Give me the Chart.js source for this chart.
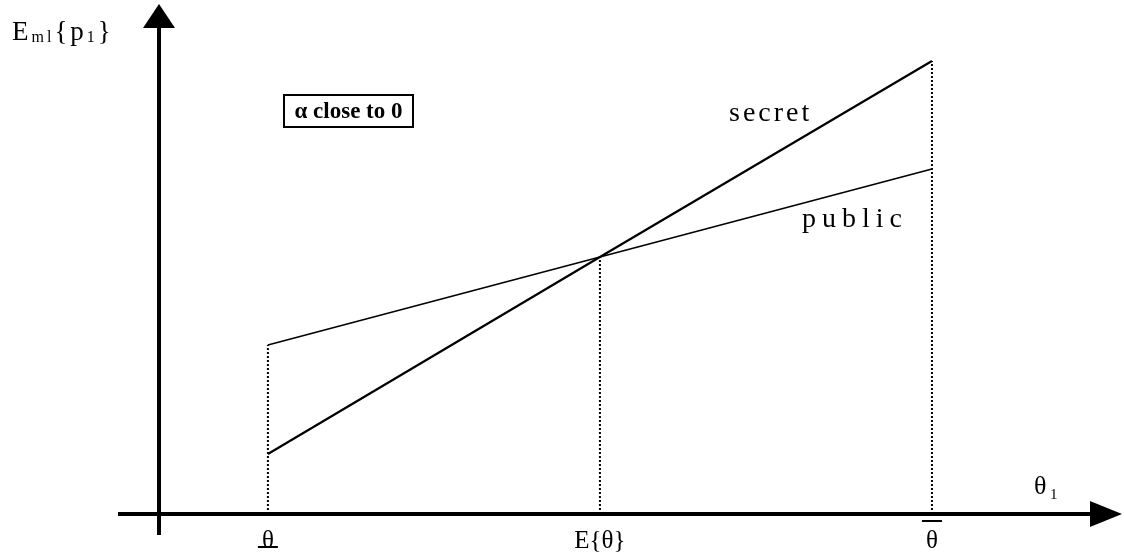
<!DOCTYPE html>
<html lang="en">

<head>
    <meta charset="UTF-8">
    <title>Secret vs public</title>
    <script src="https://cdn.jsdelivr.net/npm/chart.js"></script>
    <style>
        body { margin: 0; background: #fff; }
        canvas { display: block; }
    </style>
</head>

<body>
    <canvas id="chart" width="1124" height="557"></canvas>
    <script>
        // theta positions: low, expected, high
        const thetaValues = [0, 1, 2];
        const thetaLabels = ['θ', 'E{θ}', 'θ'];
        const publicPrice = [169, 257, 345];
        const secretPrice = [60, 257, 453];

        const toPoints = ys => thetaValues.map((x, i) => ({ x: x, y: ys[i] }));

        // dotted drop lines from the axis up to the higher of the two lines
        const dropSets = thetaValues.map((x, i) => ({
            data: [{ x: x, y: 0 }, { x: x, y: Math.max(publicPrice[i], secretPrice[i]) }],
            borderColor: '#000',
            borderWidth: 2,
            borderDash: [2, 2],
            pointRadius: 0,
            showLine: true
        }));

        const serif = '"Liberation Serif", "DejaVu Serif", serif';

        const axesPlugin = {
            id: 'axes',
            afterDraw(chart) {
                const ctx = chart.ctx;
                const a = chart.chartArea;
                const xs = chart.scales.x;
                ctx.save();
                ctx.fillStyle = '#000';
                ctx.strokeStyle = '#000';

                // y axis with arrow
                ctx.lineWidth = 4;
                ctx.beginPath();
                ctx.moveTo(a.left, 535);
                ctx.lineTo(a.left, 26);
                ctx.stroke();
                ctx.beginPath();
                ctx.moveTo(a.left, 4);
                ctx.lineTo(a.left - 16, 28);
                ctx.lineTo(a.left + 16, 28);
                ctx.closePath();
                ctx.fill();

                // x axis with arrow
                ctx.beginPath();
                ctx.moveTo(118, a.bottom);
                ctx.lineTo(a.right + 2, a.bottom);
                ctx.stroke();
                ctx.beginPath();
                ctx.moveTo(a.right + 32, a.bottom);
                ctx.lineTo(a.right, a.bottom - 13);
                ctx.lineTo(a.right, a.bottom + 13);
                ctx.closePath();
                ctx.fill();

                // bar under low theta, bar over high theta
                ctx.lineWidth = 2;
                const lo = xs.getPixelForValue(thetaValues[0]);
                const hi = xs.getPixelForValue(thetaValues[2]);
                ctx.beginPath();
                ctx.moveTo(lo - 10, 547);
                ctx.lineTo(lo + 10, 547);
                ctx.moveTo(hi - 10, 521);
                ctx.lineTo(hi + 10, 521);
                ctx.stroke();

                // y axis title E_m{p_1}
                ctx.textBaseline = 'alphabetic';
                ctx.textAlign = 'left';
                ctx.letterSpacing = '3px';
                let x = 12;
                const part = (t, size, dy) => {
                    ctx.font = size + 'px ' + serif;
                    ctx.fillText(t, x, 40 + dy);
                    x += ctx.measureText(t).width;
                };
                part('E', 27, 0);
                part('ml', 16, 2);
                part('{p', 27, 0);
                part('1', 16, 2);
                part('}', 27, 0);
                ctx.letterSpacing = '0px';

                // x axis title θ_1
                ctx.font = '26px ' + serif;
                ctx.fillText('θ', 1034, 494);
                ctx.font = '15px ' + serif;
                ctx.fillText('1', 1050, 499);

                // series names
                ctx.font = '28px ' + serif;
                ctx.letterSpacing = '3px';
                ctx.fillText('secret', 729, 121);
                ctx.letterSpacing = '6px';
                ctx.fillText('public', 802, 227);
                ctx.letterSpacing = '0px';

                // boxed note
                ctx.lineWidth = 2;
                ctx.strokeRect(284, 95, 129, 32);
                ctx.font = 'bold 23px ' + serif;
                ctx.textAlign = 'center';
                ctx.textBaseline = 'middle';
                ctx.fillText('α close to 0', 348.5, 112);
                ctx.restore();
            }
        };

        new Chart(document.getElementById('chart').getContext('2d'), {
            type: 'scatter',
            data: {
                datasets: [
                    {
                        label: 'secret',
                        data: toPoints(secretPrice),
                        borderColor: '#000',
                        borderWidth: 2.2,
                        pointRadius: 0,
                        showLine: true
                    },
                    {
                        label: 'public',
                        data: toPoints(publicPrice),
                        borderColor: '#000',
                        borderWidth: 1.6,
                        pointRadius: 0,
                        showLine: true
                    },
                    ...dropSets
                ]
            },
            options: {
                responsive: false,
                animation: false,
                layout: { padding: { left: 159, right: 34, top: 22, bottom: 0 } },
                plugins: { legend: { display: false }, tooltip: { enabled: false } },
                scales: {
                    x: {
                        type: 'linear',
                        min: -0.328,
                        max: 2.476,
                        grid: { display: false },
                        border: { display: false },
                        afterFit(scale) { scale.height = 43; },
                        afterBuildTicks(scale) {
                            scale.ticks = thetaValues.map(v => ({ value: v }));
                        },
                        ticks: {
                            autoSkip: false,
                            maxRotation: 0,
                            padding: 4,
                            color: '#000',
                            font: { family: serif, size: 25 },
                            callback: (v) => thetaLabels[thetaValues.indexOf(v)]
                        }
                    },
                    y: {
                        display: false,
                        min: 0,
                        max: 492
                    }
                }
            },
            plugins: [axesPlugin]
        });
    </script>
</body>

</html>
